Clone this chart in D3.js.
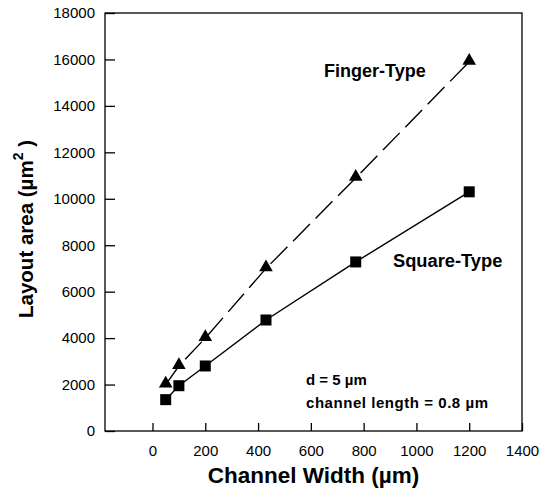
<!DOCTYPE html>
<html>
<head>
<meta charset="utf-8">
<script src="https://cdn.jsdelivr.net/npm/d3@7"></script>
<style>
  body { margin: 0; background: #fff; }
  svg { font-family: Arial, "Liberation Sans", sans-serif; }
</style>
</head>
<body>
<svg width="541" height="498"></svg>
<script>
// channel width (um) for both layouts
const widths = [50, 100, 200, 430, 770, 1200];
// layout area (um^2)
const fingerArea = [2000, 2800, 4000, 7000, 10900, 15900];
const squareArea = [1350, 1950, 2800, 4780, 7280, 10300];

const xTicks = [0, 200, 400, 600, 800, 1000, 1200, 1400];
const yTicks = [0, 2000, 4000, 6000, 8000, 10000, 12000, 14000, 16000, 18000];

const svg = d3.select('svg');
const margin = { top: 13, right: 19, bottom: 67, left: 105 };
const width = 541;
const height = 498;
const innerW = width - margin.left - margin.right;
const innerH = height - margin.top - margin.bottom;

const x = d3.scaleLinear().domain([-180, 1400]).range([0, innerW]);
const y = d3.scaleLinear().domain([0, 18000]).range([innerH, 0]);

const g = svg.append('g')
  .attr('transform', `translate(${margin.left},${margin.top})`);

// frame
g.append('rect')
  .attr('width', innerW)
  .attr('height', innerH)
  .attr('fill', 'none')
  .attr('stroke', '#000')
  .attr('stroke-width', 1.3);

// axes, ticks pointing inward
const xAxis = g.append('g')
  .attr('transform', `translate(0,${innerH})`)
  .call(d3.axisBottom(x).tickValues(xTicks).tickFormat(d3.format('d'))
    .tickSizeInner(-8).tickSizeOuter(0).tickPadding(14));
const yAxis = g.append('g')
  .call(d3.axisLeft(y).tickValues(yTicks).tickFormat(d3.format('d'))
    .tickSizeInner(-10).tickSizeOuter(0).tickPadding(10));

[xAxis, yAxis].forEach(a => {
  a.select('.domain').remove();
  a.selectAll('line').attr('stroke-width', 1.3);
  a.selectAll('text')
    .attr('font-size', 15)
    .attr('fill', '#000')
    .attr('font-family', 'Arial, "Liberation Sans", sans-serif');
});

const line = d3.line()
  .x((d, i) => x(widths[i]))
  .y(d => y(d));

g.append('path')
  .datum(fingerArea)
  .attr('d', line)
  .attr('fill', 'none')
  .attr('stroke', '#000')
  .attr('stroke-width', 1.4)
  .attr('stroke-dasharray', '24,8');

g.append('path')
  .datum(squareArea)
  .attr('d', line)
  .attr('fill', 'none')
  .attr('stroke', '#000')
  .attr('stroke-width', 1.4);

const tri = d3.symbol().type(d3.symbolTriangle).size(80);
g.selectAll('.tri')
  .data(fingerArea)
  .enter()
  .append('path')
  .attr('class', 'tri')
  .attr('d', tri)
  .attr('transform', (d, i) => `translate(${x(widths[i])},${y(d) - 1})`)
  .attr('fill', '#000');

g.selectAll('.sq')
  .data(squareArea)
  .enter()
  .append('rect')
  .attr('class', 'sq')
  .attr('x', (d, i) => x(widths[i]) - 5.5)
  .attr('y', d => y(d) - 5.5)
  .attr('width', 11)
  .attr('height', 11)
  .attr('fill', '#000');

// series labels and notes
svg.append('text')
  .attr('x', 324).attr('y', 77)
  .attr('font-size', 18).attr('font-weight', 'bold')
  .text('Finger-Type');
svg.append('text')
  .attr('x', 393).attr('y', 267)
  .attr('font-size', 18.3).attr('font-weight', 'bold')
  .text('Square-Type');
svg.append('text')
  .attr('x', 306).attr('y', 385)
  .attr('font-size', 15).attr('font-weight', 'bold')
  .text('d = 5  \u00b5m');
svg.append('text')
  .attr('x', 306).attr('y', 408)
  .attr('font-size', 15).attr('font-weight', 'bold')
  .attr('textLength', 182)
  .text('channel length = 0.8 \u00b5m');

// axis titles
svg.append('text')
  .attr('x', margin.left + innerW / 2)
  .attr('y', 483)
  .attr('text-anchor', 'middle')
  .attr('font-size', 22.5).attr('font-weight', 'bold')
  .text('Channel Width (\u00b5m)');

const yt = svg.append('text')
  .attr('transform', `translate(33,229) rotate(-90)`)
  .attr('text-anchor', 'middle')
  .attr('font-size', 20.5).attr('font-weight', 'bold');
yt.append('tspan').text('Layout area (\u00b5m');
yt.append('tspan').attr('dy', -10).attr('font-size', 14).text('2');
yt.append('tspan').attr('dy', 10).text(' )');
</script>
</body>
</html>
